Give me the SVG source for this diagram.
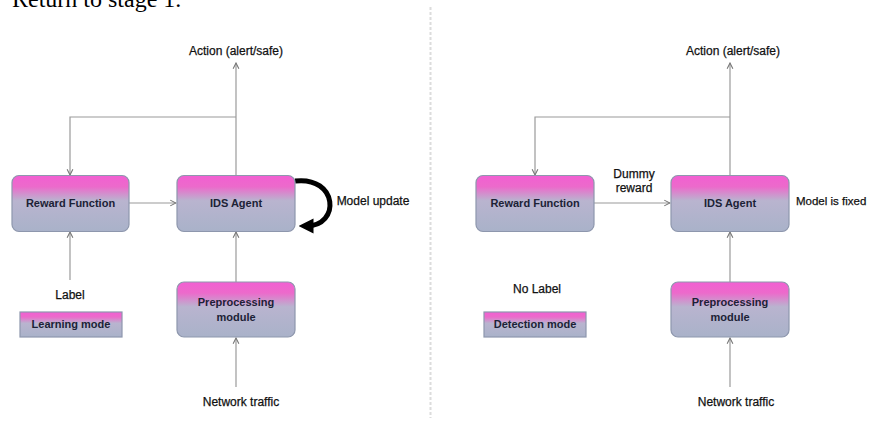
<svg xmlns="http://www.w3.org/2000/svg" width="869" height="421" viewBox="0 0 869 421">
<defs>
<linearGradient id="g" x1="0" y1="0" x2="0" y2="1">
<stop offset="0" stop-color="#f25fd2"/>
<stop offset="0.2" stop-color="#ec6acb"/>
<stop offset="0.45" stop-color="#b9b4cf"/>
<stop offset="1" stop-color="#a9b2c9"/>
</linearGradient>
<marker id="ah" viewBox="0 0 10 10" refX="9" refY="5" markerWidth="6" markerHeight="6" orient="auto">
<path d="M1 1 L9 5 L1 9" fill="none" stroke="#777" stroke-width="1.5"/>
</marker>
<marker id="bh" viewBox="0 0 10 10" refX="5" refY="5" markerWidth="3" markerHeight="3.2" orient="auto">
<path d="M0 0 L10 5 L0 10 Z" fill="#000"/>
</marker>
</defs>
<style>
.box{fill:url(#g);stroke:#8e97ad;stroke-width:1.2}
.bt{font-family:"Liberation Sans",Arial,sans-serif;font-size:11px;font-weight:bold;fill:#1c2236;text-anchor:middle}
.lt{font-family:"Liberation Sans",Arial,sans-serif;font-size:12px;fill:#111;stroke:#111;stroke-width:0.25;text-anchor:middle}
.c{fill:none;stroke:#9a9a9a;stroke-width:1.2}
</style>
<text x="12" y="7" font-family="Liberation Serif,serif" font-size="24" fill="#000">Return to stage 1.</text>
<line x1="430.5" y1="7" x2="430.5" y2="418" stroke="#dcdcdc" stroke-width="2" stroke-dasharray="3 2"/>

<g id="connectors">
<line class="c" x1="236" y1="175" x2="236" y2="63" marker-end="url(#ah)"/>
<polyline class="c" points="236,117 70,117 70,175" marker-end="url(#ah)"/>
<line class="c" x1="129" y1="203" x2="176" y2="203" marker-end="url(#ah)"/>
<line class="c" x1="70" y1="280" x2="70" y2="232" marker-end="url(#ah)"/>
<line class="c" x1="236" y1="282" x2="236" y2="232" marker-end="url(#ah)"/>
<line class="c" x1="236" y1="387" x2="236" y2="338" marker-end="url(#ah)"/>
<path d="M295 181 C338 176 341 226 306 226" fill="none" stroke="#000" stroke-width="5" marker-end="url(#bh)"/>
<line class="c" x1="730" y1="175" x2="730" y2="63" marker-end="url(#ah)"/>
<polyline class="c" points="730,117 535,117 535,175" marker-end="url(#ah)"/>
<line class="c" x1="594" y1="203" x2="670" y2="203" marker-end="url(#ah)"/>
<line class="c" x1="730" y1="282" x2="730" y2="232" marker-end="url(#ah)"/>
<line class="c" x1="730" y1="387" x2="730" y2="338" marker-end="url(#ah)"/>
</g>

<g id="left-action"><text class="lt" x="236" y="55">Action (alert/safe)</text></g>
<g id="left-reward"><rect class="box" x="12" y="175.5" width="117" height="56" rx="7"/><text class="bt" x="70.5" y="207">Reward Function</text></g>
<g id="left-ids"><rect class="box" x="177" y="175.5" width="118" height="56" rx="7"/><text class="bt" x="236" y="207">IDS Agent</text></g>
<g id="left-model-update"><text class="lt" x="373" y="205">Model update</text></g>
<g id="left-label"><text class="lt" x="70" y="299">Label</text></g>
<g id="left-mode"><rect class="box" x="20" y="312" width="102" height="25"/><text class="bt" x="71" y="328">Learning mode</text></g>
<g id="left-pre"><rect class="box" x="177" y="282" width="118" height="55" rx="7"/><text class="bt" x="236" y="306">Preprocessing</text><text class="bt" x="236" y="321">module</text></g>
<g id="left-traffic"><text class="lt" x="241" y="406">Network traffic</text></g>

<g id="right-action"><text class="lt" x="733" y="55">Action (alert/safe)</text></g>
<g id="right-reward"><rect class="box" x="476" y="175.5" width="118" height="56" rx="7"/><text class="bt" x="535" y="207">Reward Function</text></g>
<g id="right-dummy"><text class="lt" x="634" y="178">Dummy</text><text class="lt" x="634" y="192">reward</text></g>
<g id="right-ids"><rect class="box" x="671" y="175.5" width="118" height="56" rx="7"/><text class="bt" x="730" y="207">IDS Agent</text></g>
<g id="right-fixed"><text class="lt" x="796" y="205" style="text-anchor:start;font-size:11.5px">Model is fixed</text></g>
<g id="right-nolabel"><text class="lt" x="537" y="293">No Label</text></g>
<g id="right-mode"><rect class="box" x="484" y="312" width="102" height="25"/><text class="bt" x="535" y="328">Detection mode</text></g>
<g id="right-pre"><rect class="box" x="671" y="282" width="118" height="55" rx="7"/><text class="bt" x="730" y="306">Preprocessing</text><text class="bt" x="730" y="321">module</text></g>
<g id="right-traffic"><text class="lt" x="736" y="406">Network traffic</text></g>
</svg>
